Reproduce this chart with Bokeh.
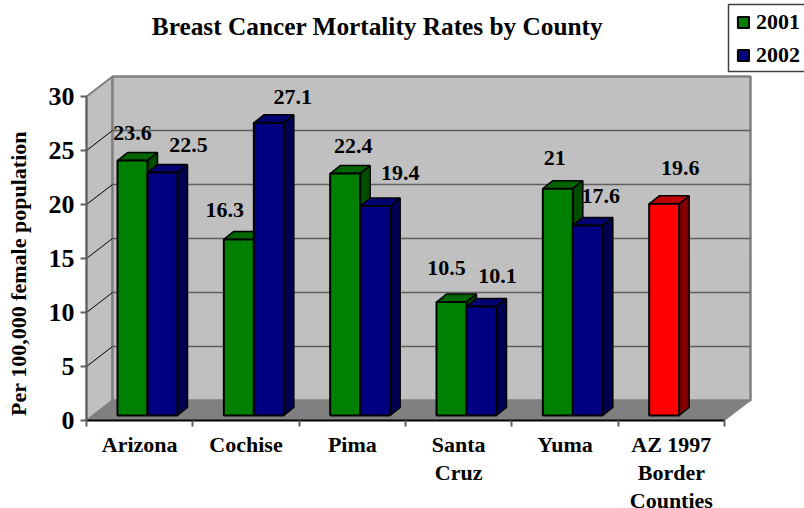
from bokeh.plotting import figure
from bokeh.models import FixedTicker, Label, Legend, LegendItem, LinearAxis, Range1d
from bokeh.embed import file_html
from bokeh.resources import INLINE
from math import pi

TITLE = "Breast Cancer Mortality Rates by County"
YLABEL = "Per 100,000 female population"
categories = ["Arizona", "Cochise", "Pima", "Santa\nCruz", "Yuma", "AZ 1997\nBorder\nCounties"]
series_2001 = [23.6, 16.3, 22.4, 10.5, 21.0]
series_2002 = [22.5, 27.1, 19.4, 10.1, 17.6]
border_1997 = [19.6]
y_ticks = [0, 5, 10, 15, 20, 25, 30]

# label placement offsets (pixels), style only
lab_2001 = [(0, 28), (-14, 29), (8, 28), (-5, 34), (-3, 31)]
lab_2002 = [(26, 28), (24, 26), (25, 33), (16, 30), (13, 29)]
lab_1997 = [(16, 36)]

# geometry (pixels in the page)
W, H = 804, 508
L, R, T, B = 86, 750, 76, 420
CAT_W = (724 - 86) / 6
VAL_H = 324 / 30
DEPTH_X, DEPTH_Y = 26, 20
BAR_W, BAR_DX, BAR_DY, BAR_X0, BAR_BASE = 30, 10, 8, 31, 5
cx = lambda px: px / CAT_W           # pixels -> category units
cy = lambda px: px / VAL_H           # pixels -> value units
X_MAX = cx(R - L)
dx, dy = cx(DEPTH_X), cy(DEPTH_Y)

SERIF = "Liberation Serif"
p = figure(width=W, height=H, output_backend="svg", toolbar_location=None,
           x_range=Range1d(-cx(L), cx(W - L)), y_range=Range1d(-cy(H - B), cy(B)),
           x_axis_location=None, y_axis_location=None,
           min_border=0, margin=0)
p.outline_line_color = None
p.background_fill_color = "white"
p.border_fill_color = "white"
p.grid.visible = False

# walls and floor
p.patch([0, dx, dx, 0], [0, dy, 30 + dy, 30], fill_color="#c0c0c0", line_color="#808080", line_width=2)
p.patch([dx, X_MAX, X_MAX, dx], [dy, dy, 30 + dy, 30 + dy],
        fill_color="#c0c0c0", line_color="#808080", line_width=2.5)
p.patch([0, dx, X_MAX, X_MAX - dx], [0, dy, dy, 0], fill_color="#808080", line_color="#808080")
grid_vals = y_ticks[1:-1]
p.multi_line([[dx, X_MAX] for _ in grid_vals], [[v + dy, v + dy] for v in grid_vals],
             line_color="#5f5f5f", line_width=1.6)
p.multi_line([[0, dx] for _ in grid_vals], [[v, v + dy] for v in grid_vals], line_color="black", line_width=1)


def bars(values, slot, front, top, side, cats=None):
    cats = cats if cats is not None else list(range(len(values)))
    left = [c + cx(BAR_X0 + slot * BAR_W) for c in cats]
    right = [x + cx(BAR_W) for x in left]
    base = cy(BAR_BASE)
    tops = [v + base for v in values]
    ddx, ddy = cx(BAR_DX), cy(BAR_DY)
    p.patches([[a, a + ddx, b + ddx, b] for a, b in zip(left, right)],
              [[t, t + ddy, t + ddy, t] for t in tops],
              fill_color=top, line_color="black", line_width=1.5)
    p.patches([[b, b + ddx, b + ddx, b] for b in right],
              [[base, base + ddy, t + ddy, t] for t in tops],
              fill_color=side, line_color="black", line_width=1.5)
    return p.quad(left=left, right=right, bottom=base, top=tops, fill_color=front, line_color="black", line_width=2)


r1 = bars(series_2001, 0, "#008000", "#006400", "#004d00")
r2 = bars(series_2002, 1, "#000080", "#000070", "#000050")
bars(border_1997, 0, "#ff0000", "#c00000", "#800000", cats=[5])


def val_label(cat, val, slot, off):
    xc = cat + cx(BAR_X0 + slot * BAR_W + BAR_W / 2 + off[0])
    p.add_layout(Label(x=xc, y=val + cy(BAR_BASE + off[1]), text=f"{val:g}", text_font=SERIF, text_font_style="bold",
                       text_font_size="22px", text_align="center", text_baseline="middle", text_color="black"))


for i, (v, o) in enumerate(zip(series_2001, lab_2001)):
    val_label(i, v, 0, o)
for i, (v, o) in enumerate(zip(series_2002, lab_2002)):
    val_label(i, v, 1, o)
val_label(5, border_1997[0], 0, lab_1997[0])

# axes
yax = LinearAxis(ticker=FixedTicker(ticks=y_ticks), bounds=(0, 30), fixed_location=0)
yax.axis_line_color = "#606060"
yax.axis_line_width = 2
yax.major_tick_in = 0
yax.major_tick_out = 6
yax.major_tick_line_color = "#606060"
yax.major_tick_line_width = 2
yax.minor_tick_line_color = None
yax.major_label_text_font = SERIF
yax.major_label_text_font_style = "bold"
yax.major_label_text_font_size = "26px"
yax.major_label_text_color = "black"
yax.major_label_standoff = 6
p.add_layout(yax, "left")

centers = [i + 0.5 for i in range(len(categories))]
xax = LinearAxis(ticker=FixedTicker(ticks=centers, minor_ticks=list(range(len(categories) + 1))),
                 bounds=(0, 6), fixed_location=0)
xax.major_label_overrides = {c: t for c, t in zip(centers, categories)}
xax.axis_line_color = "black"
xax.axis_line_width = 2
xax.major_tick_line_color = None
xax.minor_tick_line_color = "#606060"
xax.minor_tick_line_width = 2
xax.minor_tick_in = 0
xax.minor_tick_out = 6
xax.major_label_text_font = SERIF
xax.major_label_text_font_style = "bold"
xax.major_label_text_font_size = "22px"
xax.major_label_text_color = "black"
xax.major_label_text_line_height = 1.12
xax.major_label_standoff = 5
p.add_layout(xax, "below")

p.add_layout(Label(x=cx(377 - L), y=cy(B - 25), text=TITLE, text_font=SERIF, text_font_style="bold",
                   text_font_size="25.3px", text_align="center", text_baseline="middle", text_color="black"))
p.add_layout(Label(x=cx(18 - L), y=cy(B - 273), text=YLABEL, angle=pi / 2, text_font=SERIF, text_font_style="bold",
                   text_font_size="22px", text_align="center", text_baseline="middle", text_color="black"))

# legend frame, open on the right because it runs off the page as in the reference
p.quad(left=cx(728 - L), right=cx(W + 6 - L), top=cy(B - 4), bottom=cy(B - 71),
       fill_color="white", line_color="#404040", line_width=1.5)
legend = Legend(items=[LegendItem(label="2001", renderers=[r1]), LegendItem(label="2002", renderers=[r2])],
                location=(736, H - 68), orientation="vertical",
                border_line_color=None, background_fill_alpha=0,
                label_text_font=SERIF, label_text_font_style="bold", label_text_font_size="22px",
                label_text_color="black", glyph_width=14, glyph_height=14, spacing=7,
                margin=0, padding=0, label_standoff=6)
p.add_layout(legend, "center")

open("out.html", "w").write(file_html(p, INLINE))
